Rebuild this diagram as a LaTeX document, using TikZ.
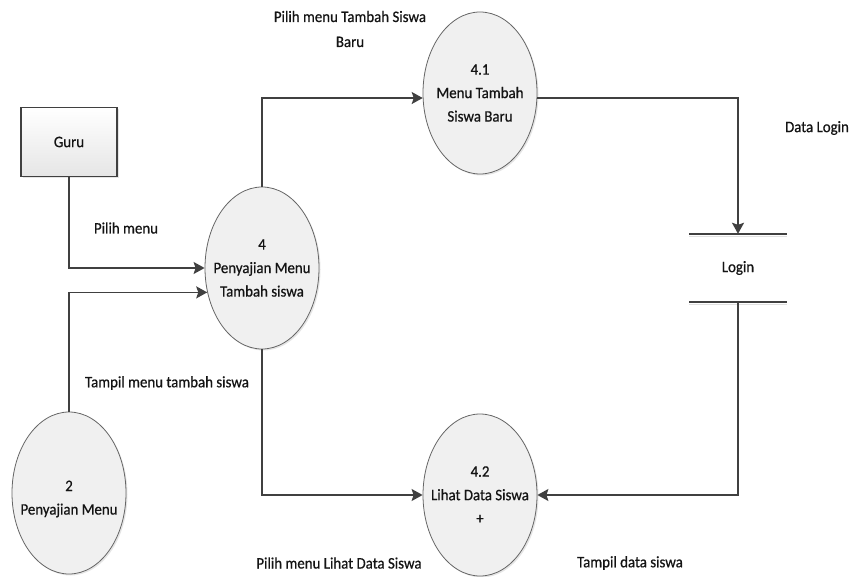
\documentclass[tikz,border=0pt]{standalone}
\usepackage{fontspec}
\setmainfont{Carlito}[FakeStretch=0.93, FakeBold=0.6]
\usetikzlibrary{arrows.meta,shapes.geometric,shadows}
\definecolor{lineclr}{HTML}{404040}
\definecolor{textclr}{HTML}{141414}
\definecolor{bubblefill}{HTML}{F0F0F0}
\tikzset{
  every node/.style={text=textclr},
  process/.style={ellipse, draw=black!60, line width=0.8pt, fill=bubblefill,
    minimum width=114pt, minimum height=162pt, inner sep=0pt,
    drop shadow={opacity=0.2, shadow xshift=1.5pt, shadow yshift=-1.5pt}},
  ptext/.style={align=center, inner sep=0pt, font=\fontsize{16}{23.5}\selectfont},
  entity/.style={rectangle, draw=lineclr, line width=1.2pt,
    top color=white, bottom color=black!10,
    minimum width=96pt, minimum height=69pt, inner sep=0pt,
    font=\fontsize{16}{20}\selectfont,
    drop shadow={opacity=0.2, shadow xshift=1.5pt, shadow yshift=-1.5pt}},
  storebox/.style={rectangle, minimum width=97pt, minimum height=68pt,
    inner sep=0pt, font=\fontsize{16}{20}\selectfont},
  storeline/.style={draw=lineclr, line width=1.6pt},
  flow/.style={draw=lineclr, line width=1.5pt,
    -{Stealth[length=11pt, width=12pt, inset=2pt]}},
  lbl/.style={font=\fontsize{16}{25}\selectfont, align=center, inner sep=0pt}
}
\begin{document}
\begin{tikzpicture}[x=1pt, y=-1pt]
  \useasboundingbox[fill=white] (0,0) rectangle (853,577);

  % external entity and processes (bubble text kept out of the shape size)
  \node[entity] (guru) at (69,142) {Guru};
  \node[process, label={[ptext]center:{4\\Penyajian Menu\\Tambah siswa}}] (p4) at (262,268) {};
  \node[process, label={[ptext]center:{4.1\\Menu Tambah\\Siswa Baru}}] (p41) at (480,93) {};
  \node[process, label={[ptext]center:{4.2\\Lihat Data Siswa\\+}}] (p42) at (480,495) {};
  \node[process, label={[ptext, yshift=-6pt]center:{2\\Penyajian Menu}}] (p2) at (69,493) {};

  % data store
  \node[storebox] (store) at (738,268) {Login};
  \draw[storeline] (store.north west) -- (store.north east);
  \draw[storeline] (store.south west) -- (store.south east);
  \draw[black!12, line width=1.2pt] ([yshift=-2.5pt]store.north west) -- ([yshift=-2.5pt]store.north east);
  \draw[black!12, line width=1.2pt] ([yshift=-2.5pt]store.south west) -- ([yshift=-2.5pt]store.south east);

  % data flows
  \draw[flow] (guru.south) |- (p4.west);
  \draw[flow] (p2.north) |- (p4.204.8);
  \draw[flow] (p4.north) |- (p41.185);
  \draw[flow] (p41.355) -| (store.north);
  \draw[flow] (store.south) |- (p42.east);
  \draw[flow] (p4.south) |- (p42.west);

  % flow labels
  \node[lbl] (l1) at (350,29) {Pilih menu Tambah Siswa\\Baru};
  \node[lbl] (l2) at (126,228) {Pilih menu};
  \node[lbl] (l3) at (817,128) {Data Login};
  \node[lbl] (l4) at (167,383) {Tampil menu tambah siswa};
  \node[lbl] (l5) at (339,563) {Pilih menu Lihat Data Siswa};
  \node[lbl] (l6) at (630,563) {Tampil data siswa};
\end{tikzpicture}
\end{document}
